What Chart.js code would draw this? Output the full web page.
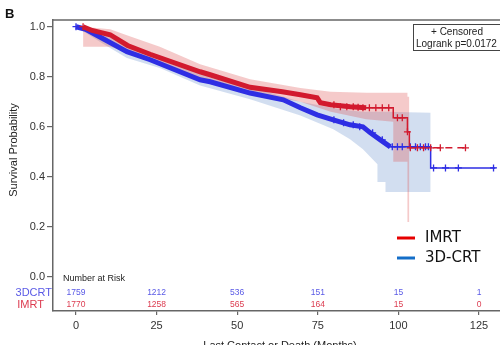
<!DOCTYPE html>
<html>
<head>
<meta charset="utf-8">
<script src="https://cdn.jsdelivr.net/npm/chart.js@4/dist/chart.umd.min.js"></script>
<style>
  html, body { margin: 0; padding: 0; overflow: hidden; background: #fff; }
  #wrap { width: 520px; height: 345px; }
</style>
</head>
<body>
<div id="wrap"><canvas id="km"></canvas></div>
<script>
// survival curves (months, probability)
const imrtTime = [2.2, 5, 10.6, 16, 23, 38.5, 41.6, 54, 64, 69.6, 74.8, 75.8, 79, 85, 90];
const imrtSurv = [1.0, 0.985, 0.968, 0.925, 0.89, 0.82, 0.808, 0.758, 0.74, 0.728, 0.716, 0.696, 0.688, 0.68, 0.676];
const imrtTailTime = [90, 98.4, 102.8, 103.4, 120.8];
const imrtTailSurv = [0.676, 0.636, 0.58, 0.516, 0.516];

const crtTime = [0, 3, 8, 15.8, 23, 38.5, 41.6, 54, 64.3, 69.6, 74.8, 79.8, 85, 89, 91.3, 94.4, 97.5];
const crtSurv = [1.0, 0.99, 0.955, 0.9, 0.868, 0.788, 0.78, 0.735, 0.708, 0.676, 0.648, 0.628, 0.608, 0.6, 0.576, 0.548, 0.52];
const crtTailTime = [97.5, 110, 130.1];
const crtTailSurv = [0.52, 0.436, 0.436];

// confidence bands
const imrtCiTime = [2.2, 10.6, 16, 26, 38.5, 54, 69.6, 79, 90, 98.4, 98.4, 102.8, 102.8, 103.4];
const imrtCiUpper = [1.0, 0.99, 0.965, 0.92, 0.85, 0.79, 0.755, 0.74, 0.736, 0.736, 0.736, 0.736, 0.72, 0.72];
const imrtCiLower = [0.92, 0.92, 0.9, 0.86, 0.795, 0.735, 0.7, 0.66, 0.63, 0.62, 0.46, 0.46, 0.22, 0.22];

const crtCiTime = [0, 8, 15.8, 26, 38.5, 54, 69.6, 79.8, 85, 89, 93.5, 93.5, 96, 96, 110];
const crtCiUpper = [1.0, 0.975, 0.925, 0.885, 0.81, 0.76, 0.7, 0.675, 0.665, 0.66, 0.66, 0.66, 0.66, 0.66, 0.656];
const crtCiLower = [1.0, 0.935, 0.875, 0.835, 0.765, 0.71, 0.645, 0.59, 0.55, 0.51, 0.45, 0.38, 0.38, 0.34, 0.34];

// censored observations
const imrtCensTime = [2.2, 80, 82, 84, 86, 87.5, 89, 91, 93, 95, 97, 99.7, 101.2, 102.8, 103.7, 105.9, 107.8, 110, 113, 120.8];
const imrtCensSurv = [1.0, 0.688, 0.68, 0.68, 0.68, 0.678, 0.676, 0.676, 0.676, 0.676, 0.676, 0.636, 0.636, 0.58, 0.516, 0.516, 0.516, 0.516, 0.516, 0.516];
const crtCensTime = [0, 80, 83, 86, 88, 92, 95, 98.1, 99.7, 101.2, 103.7, 105.3, 106.8, 108.4, 109.3, 110.9, 114.6, 118.6, 129.5];
const crtCensSurv = [1.0, 0.628, 0.616, 0.608, 0.6, 0.576, 0.548, 0.52, 0.52, 0.52, 0.52, 0.52, 0.52, 0.52, 0.52, 0.436, 0.436, 0.436, 0.436];

// number at risk table
const riskTimes = [0, 25, 50, 75, 100, 125];
const risk3D = [1759, 1212, 536, 151, 15, 1];
const riskIMRT = [1770, 1258, 565, 164, 15, 0];

const xTicks = [0, 25, 50, 75, 100, 125];
const yTicks = [0, 0.2, 0.4, 0.6, 0.8, 1.0];

const RED = 'rgb(210,26,46)';
const BLUE = 'rgb(46,46,228)';
const FONT = "'Liberation Sans', Arial, sans-serif";

const pts = (t, s) => t.map((v, i) => ({ x: v, y: s[i] }));

const ciLine = (t, s, fill, bg) => ({
  data: pts(t, s), borderWidth: 0, borderColor: 'transparent', pointRadius: 0,
  fill, backgroundColor: bg, order: 10, tension: 0
});

const overlay = {
  id: 'overlay',
  afterDraw(chart) {
    const { ctx, chartArea: a, scales: { x } } = chart;
    ctx.save();
    // top frame line
    ctx.strokeStyle = '#666';
    ctx.lineWidth = 1.5;
    ctx.beginPath();
    ctx.moveTo(a.left, a.top);
    ctx.lineTo(a.right, a.top);
    ctx.stroke();

    // panel letter
    ctx.fillStyle = '#111';
    ctx.font = `bold 13px ${FONT}`;
    ctx.textBaseline = 'middle';
    ctx.textAlign = 'left';
    ctx.fillText('B', 5, 14);

    // y title
    ctx.save();
    ctx.translate(14, 150);
    ctx.rotate(-Math.PI / 2);
    ctx.textAlign = 'center';
    ctx.font = `11px ${FONT}`;
    ctx.fillStyle = '#222';
    ctx.fillText('Survival Probability', 0, 0);
    ctx.restore();

    // x title
    ctx.font = `11px ${FONT}`;
    ctx.fillStyle = '#222';
    ctx.textAlign = 'center';
    ctx.textBaseline = 'top';
    ctx.fillText('Last Contact or Death (Months)', 280, 340);

    // number at risk
    ctx.textBaseline = 'middle';
    ctx.textAlign = 'left';
    ctx.font = `9px ${FONT}`;
    ctx.fillStyle = '#222';
    ctx.fillText('Number at Risk', 63, 279);
    ctx.textAlign = 'right';
    ctx.font = `11px ${FONT}`;
    ctx.fillStyle = 'rgb(90,90,230)';
    ctx.fillText('3DCRT', 52, 293);
    ctx.fillStyle = 'rgb(220,60,80)';
    ctx.fillText('IMRT', 44, 305);
    ctx.textAlign = 'center';
    ctx.font = `8.5px ${FONT}`;
    riskTimes.forEach((t, i) => {
      const px = x.getPixelForValue(t);
      ctx.fillStyle = 'rgb(90,90,230)';
      ctx.fillText(String(risk3D[i]), px, 293);
      ctx.fillStyle = 'rgb(220,60,80)';
      ctx.fillText(String(riskIMRT[i]), px, 305);
    });

    // censored / logrank box
    ctx.strokeStyle = '#444';
    ctx.lineWidth = 1;
    ctx.strokeRect(413.5, 24.5, 100, 26);
    ctx.fillStyle = '#222';
    ctx.font = `10px ${FONT}`;
    ctx.textAlign = 'center';
    ctx.fillText('+ Censored', 457, 32);
    ctx.textAlign = 'left';
    ctx.fillText('Logrank p=0.0172', 416, 44);

    // added legend
    ctx.lineWidth = 3;
    ctx.strokeStyle = 'rgb(230,0,0)';
    ctx.beginPath(); ctx.moveTo(397, 238); ctx.lineTo(415, 238); ctx.stroke();
    ctx.strokeStyle = 'rgb(20,110,200)';
    ctx.beginPath(); ctx.moveTo(397, 258); ctx.lineTo(415, 258); ctx.stroke();
    ctx.fillStyle = '#111';
    ctx.font = "15px 'DejaVu Sans', sans-serif";
    ctx.fillText('IMRT', 425, 238);
    ctx.fillText('3D-CRT', 425, 258);
    ctx.restore();
  }
};

new Chart(document.getElementById('km'), {
  type: 'line',
  data: {
    datasets: [
      { data: pts(imrtTime, imrtSurv), borderColor: RED, borderWidth: 5, pointRadius: 0, tension: 0, order: 1 },
      { data: pts(imrtTailTime, imrtTailSurv), borderColor: RED, borderWidth: 1.5, pointRadius: 0, stepped: true, order: 1,
        segment: { borderDash: c => c.p0.parsed.x >= 103.3 ? [7, 5] : undefined } },
      { data: pts(imrtCensTime, imrtCensSurv), showLine: false, pointStyle: 'cross', pointRadius: 3.5,
        pointBorderColor: RED, pointBorderWidth: 1.3, order: 0 },
      { data: pts(crtTime, crtSurv), borderColor: BLUE, borderWidth: 5, pointRadius: 0, tension: 0, order: 2 },
      { data: pts(crtTailTime, crtTailSurv), borderColor: BLUE, borderWidth: 1.5, pointRadius: 0, stepped: true, order: 2 },
      { data: pts(crtCensTime, crtCensSurv), showLine: false, pointStyle: 'cross', pointRadius: 3.5,
        pointBorderColor: BLUE, pointBorderWidth: 1.3, order: 0 },
      ciLine(imrtCiTime, imrtCiUpper, false, 'transparent'),
      ciLine(imrtCiTime, imrtCiLower, '-1', 'rgba(222,80,80,0.3)'),
      ciLine(crtCiTime, crtCiUpper, false, 'transparent'),
      ciLine(crtCiTime, crtCiLower, '-1', 'rgba(143,173,218,0.4)')
    ]
  },
  options: {
    responsive: true,
    maintainAspectRatio: false,
    animation: false,
    layout: { padding: { top: 20, right: 15, left: 0, bottom: 0 } },
    plugins: { legend: { display: false }, tooltip: { enabled: false } },
    scales: {
      x: {
        type: 'linear',
        min: -7.13, max: 133.06,
        afterBuildTicks: s => { s.ticks = xTicks.map(v => ({ value: v })); },
        afterFit: s => { s.height = 34; },
        grid: { drawOnChartArea: false, drawTicks: true, tickLength: 4, color: '#666', lineWidth: 1.2 },
        border: { color: '#666', width: 1.5 },
        ticks: { color: '#333', font: { family: FONT, size: 11 }, padding: 4, maxRotation: 0 }
      },
      y: {
        min: -0.1358, max: 1.0268,
        afterBuildTicks: s => { s.ticks = yTicks.map(v => ({ value: v })); },
        afterFit: s => { s.width = 53; },
        grid: { drawOnChartArea: false, drawTicks: true, tickLength: 6, color: '#666', lineWidth: 1.2 },
        border: { color: '#666', width: 1.5 },
        ticks: { color: '#333', font: { family: FONT, size: 11 }, padding: 2, callback: v => v.toFixed(1) }
      }
    }
  },
  plugins: [overlay]
});
</script>
</body>
</html>
